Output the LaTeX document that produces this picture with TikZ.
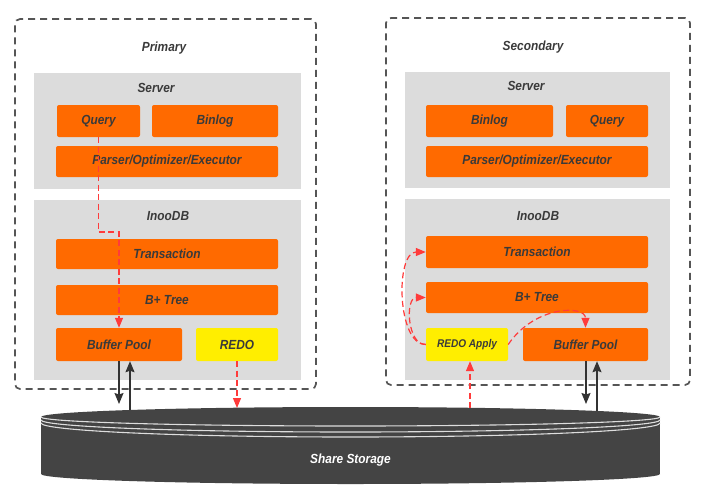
\documentclass[tikz,border=0pt]{standalone}
\usepackage{fontspec}
\setmainfont[FakeStretch=0.9]{Liberation Sans}
\usetikzlibrary{arrows.meta}
\definecolor{org}{HTML}{FF6A00}
\definecolor{ylw}{HTML}{FFEE00}
\definecolor{gry}{HTML}{DCDCDC}
\definecolor{txt}{HTML}{3A3A3A}
\definecolor{dsh}{HTML}{555555}
\definecolor{rd}{HTML}{FF3B3B}
\definecolor{stor}{HTML}{444444}
\definecolor{blk}{HTML}{333333}
\definecolor{stripe}{HTML}{DDDDDD}
\begin{document}
\begin{tikzpicture}[x=1pt,y=-1pt,
  lbl/.style={font=\fontsize{13.2}{15}\selectfont\bfseries\itshape, text=txt},
  outerbox/.style={draw=dsh, line width=1.7pt, dash pattern=on 7pt off 5pt, rounded corners=5pt, inner sep=0pt},
  graybox/.style={fill=gry, inner sep=0pt},
  obox/.style={lbl, fill=org, rounded corners=2pt, inner sep=0pt},
  ybox/.style={lbl, fill=ylw, rounded corners=2pt, inner sep=0pt},
  redarr/.style={draw=rd, line width=1.2pt, dash pattern=on 6pt off 3.5pt, -{Triangle[length=10pt,width=8pt]}},
  blkarr/.style={draw=blk, line width=1.3pt, -{Stealth[length=11pt,width=9pt,inset=1.5pt]}}
]
\useasboundingbox (0,0) rectangle (704,496);
\fill[white] (0,0) rectangle (704,496);

% outer dashed boxes
\node[outerbox, minimum width=301pt, minimum height=370pt] (prim) at (165.5,204) {};
\node[outerbox, minimum width=304pt, minimum height=367pt] (sec) at (538,201.5) {};
\node[lbl] (primT) at (164,48) {Primary};
\node[lbl] (secT) at (533,47) {Secondary};

% left gray boxes
\node[graybox, minimum width=267pt, minimum height=116pt] (serverL) at (167.5,131) {};
\node[graybox, minimum width=267pt, minimum height=180pt] (innoL) at (167.5,290) {};
\node[lbl] (serverLT) at (156,88) {Server};
\node[lbl] (innoLT) at (168,216) {InooDB};

% right gray boxes
\node[graybox, minimum width=265pt, minimum height=116pt] (serverR) at (537.5,130) {};
\node[graybox, minimum width=265pt, minimum height=181pt] (innoR) at (537.5,289.5) {};
\node[lbl] (serverRT) at (526,86) {Server};
\node[lbl] (innoRT) at (538,216) {InooDB};

% left boxes
\node[obox, minimum width=83pt, minimum height=32pt] (queryL) at (98.5,121) {Query};
\node[obox, minimum width=126pt, minimum height=32pt] (binlogL) at (215,121) {Binlog};
\node[obox, minimum width=222pt, minimum height=31pt] (parserL) at (167,161.5) {Parser/Optimizer/Executor};
\node[obox, minimum width=222pt, minimum height=30pt] (transL) at (167,254) {Transaction};
\node[obox, minimum width=222pt, minimum height=30pt] (btreeL) at (167,300) {B+ Tree};
\node[obox, minimum width=126pt, minimum height=33pt] (bufL) at (119,344.5) {Buffer Pool};
\node[ybox, minimum width=82pt, minimum height=33pt] (redoL) at (237,344.5) {REDO};

% right boxes
\node[obox, minimum width=127pt, minimum height=32pt] (binlogR) at (489.5,121) {Binlog};
\node[obox, minimum width=82pt, minimum height=32pt] (queryR) at (607,121) {Query};
\node[obox, minimum width=222pt, minimum height=31pt] (parserR) at (537,161.5) {Parser/Optimizer/Executor};
\node[obox, minimum width=222pt, minimum height=32pt] (transR) at (537,252) {Transaction};
\node[obox, minimum width=222pt, minimum height=31pt] (btreeR) at (537,297.5) {B+ Tree};
\node[ybox, minimum width=82pt, minimum height=33pt, font=\fontsize{11.2}{13}\selectfont\bfseries\itshape] (raR) at (467,344.5) {REDO Apply};
\node[obox, minimum width=125pt, minimum height=33pt] (bufR) at (585.5,344.5) {Buffer Pool};

% shared storage cylinder
\fill[stor] (41,417) rectangle (660,474);
\fill[stor] (350.5,474) ellipse [x radius=309.5, y radius=10];
\fill[stor] (350.5,417) ellipse [x radius=309.5, y radius=10];
\draw[stripe, line width=1.1pt] (41,417) arc[start angle=180, end angle=0, x radius=309.5, y radius=9];
\draw[stripe, line width=1.1pt] (41,420) arc[start angle=180, end angle=0, x radius=309.5, y radius=12];
\draw[stripe, line width=1.1pt] (41,423) arc[start angle=180, end angle=0, x radius=309.5, y radius=14];
\node[font=\fontsize{13.2}{15}\selectfont\bfseries\itshape, text=white] (store) at (350.5,460) {Share Storage};

% coordinates for free ends
\coordinate (qbend) at (119,232);
\coordinate (dL) at (119,404);
\coordinate (uL) at (130,410);
\coordinate (rL) at (237,408);
\coordinate (raU) at (470,408);
\coordinate (dR) at (586,404);
\coordinate (uR) at (597,411);

% left connectors
\draw[redarr] (queryL.south) |- (qbend) -- (bufL.north);
\draw[blkarr] (bufL.south) -- (dL);
\draw[blkarr] (uL) -- (uL |- bufL.south);
\draw[redarr] (redoL.south) -- (rL);

% right connectors
\draw[redarr] (raU) -- (raU |- raR.south);
\draw[blkarr] (dR |- bufR.south) -- (dR);
\draw[blkarr] (uR) -- (uR |- bufR.south);
\draw[redarr] (raR.west) .. controls (397,345) and (395,252) .. (transR.west);
\draw[redarr] (raR.west) .. controls (407,345) and (405,297.5) .. (btreeR.west);
\draw[redarr] (raR.east) .. controls (535,305) and (585.5,305) .. (bufR.north);
\end{tikzpicture}
\end{document}
